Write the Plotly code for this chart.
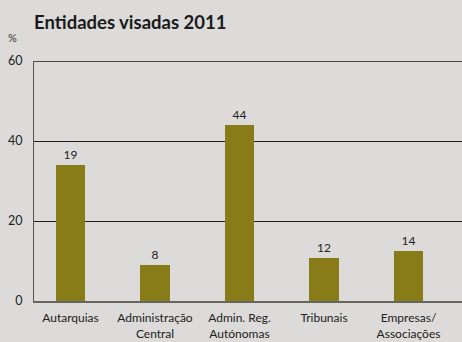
import plotly.graph_objects as go

# Entities covered, 2011
categories = ["Autarquias", "Administração<br>Central", "Admin. Reg.<br>Autónomas",
              "Tribunais", "Empresas/<br>Associações"]
percent = [34, 9, 44, 10.75, 12.5]          # bar heights on the % axis
counts = ["19", "8", "44", "12", "14"]      # figures printed above the bars
y_ticks = [0, 20, 40, 60]

BG = "#dcdbd9"
BAR = "#877c17"
FONT = "Lato"

x = list(range(len(categories)))

fig = go.Figure()
fig.add_trace(go.Bar(
    x=x, y=percent, width=0.345,
    marker=dict(color=BAR, line=dict(width=0)),
    text=counts, textposition="outside", cliponaxis=False,
    textfont=dict(family=FONT, size=12, color="#222"),
    hoverinfo="skip",
))

fig.update_layout(
    width=462, height=342,
    margin=dict(l=34, r=0, t=61, b=41, autoexpand=False),
    paper_bgcolor=BG, plot_bgcolor=BG,
    showlegend=False,
    font=dict(family=FONT, size=12, color="#222"),
    title=dict(text="<b>Entidades visadas 2011</b>", x=34/462, xanchor="left",
               y=1 - 23/342, yanchor="middle",
               font=dict(family=FONT, size=18.5, color="#1a1a1a")),
    xaxis=dict(
        tickmode="array", tickvals=x, ticktext=categories,
        range=[-0.432, 4.633], showgrid=False, zeroline=False,
        showline=True, linecolor="#66665f", linewidth=2,
        ticks="", ticklabelstandoff=5, automargin=False,
        tickfont=dict(family=FONT, size=12, color="#222"),
        fixedrange=True,
    ),
    yaxis=dict(
        range=[0, 60], tickvals=y_ticks, showgrid=True,
        gridcolor="#1e1e1e", gridwidth=1, zeroline=False,
        showline=True, linecolor="#55554f", linewidth=1,
        ticks="", ticklabelstandoff=8, automargin=False,
        tickfont=dict(family=FONT, size=12.5, color="#222"),
        fixedrange=True,
    ),
    bargap=0,
)

# top border of the plot area at 60 and the unit label
fig.add_shape(type="line", xref="paper", yref="y", x0=0, x1=1, y0=60, y1=60,
              line=dict(color="#4a4a45", width=2))
fig.add_annotation(text="%", xref="paper", yref="paper", x=-22/428, y=1 + 23/240,
                   xanchor="center", yanchor="middle", showarrow=False,
                   font=dict(family=FONT, size=11, color="#333"))

fig.write_html("out.html")
